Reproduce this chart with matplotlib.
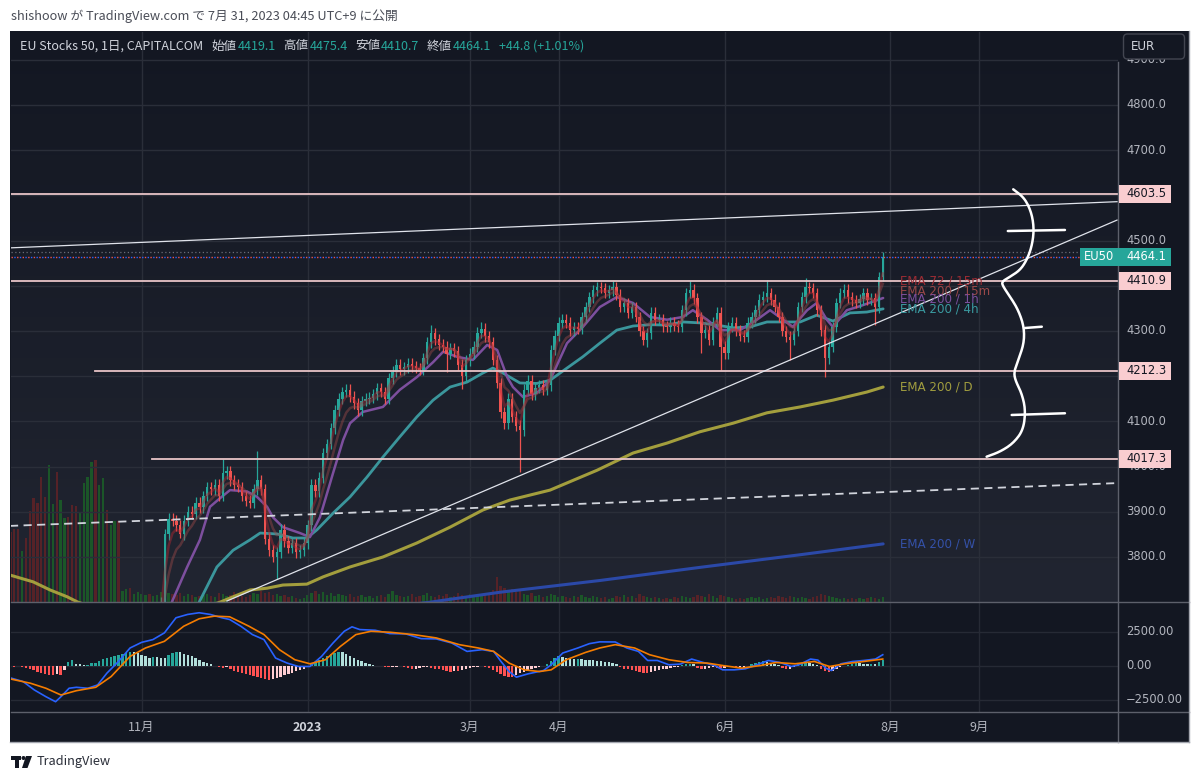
import numpy as np
import pandas as pd
import matplotlib
matplotlib.use("Agg")
import matplotlib.pyplot as plt
from matplotlib.patches import Rectangle, FancyBboxPatch, Circle, Polygon

plt.rcParams['font.family'] = ['DejaVu Sans']
CJK = ['Noto Sans CJK JP', 'DejaVu Sans']

# ---------------- data ----------------
first_open = 3560.0
closes = [
    3540, 3520, 3490, 3510, 3470, 3440, 3400, 3370, 3340, 3300,
    3330, 3360, 3320, 3350, 3380, 3360, 3340, 3310, 3340, 3380,
    3420, 3460, 3440, 3470, 3500, 3480, 3510, 3540, 3520, 3550,
    3580, 3570, 3600, 3620, 3630, 3640, 3610, 3660, 3680, 3700,
    3850, 3885, 3880, 3870, 3850, 3880, 3900, 3895, 3920, 3910,
    3935, 3955, 3950, 3960, 3935, 3985, 3990, 3970, 3960, 3955,
    3935, 3925, 3920, 3950, 3970, 3950, 3840, 3815, 3800, 3810,
    3860, 3835, 3820, 3830, 3810, 3815, 3830, 3870, 3960, 3945,
    3975, 4030, 4050, 4085, 4125, 4150, 4165, 4170, 4155, 4140,
    4125, 4145, 4150, 4152, 4160, 4174, 4165, 4150, 4195, 4210,
    4225, 4215, 4220, 4228, 4222, 4218, 4214, 4240, 4275, 4295,
    4282, 4270, 4265, 4250, 4262, 4255, 4225, 4200, 4235, 4250,
    4265, 4296, 4305, 4288, 4275, 4236, 4185, 4120, 4096, 4150,
    4110, 4090, 4080, 4170, 4190, 4160, 4175, 4180, 4170, 4180,
    4258, 4290, 4318, 4325, 4318, 4302, 4309, 4305, 4331, 4353,
    4375, 4390, 4397, 4395, 4385, 4390, 4397, 4380, 4353, 4362,
    4340, 4353, 4331, 4300, 4280, 4295, 4340, 4325, 4325, 4310,
    4309, 4318, 4312, 4309, 4346, 4384, 4391, 4372, 4330, 4296,
    4302, 4280, 4320, 4340, 4265, 4251, 4309, 4318, 4302, 4290,
    4287, 4318, 4330, 4346, 4369, 4376, 4384, 4369, 4353, 4331,
    4300, 4287, 4280, 4300, 4353, 4375, 4397, 4395, 4384, 4346,
    4302, 4240, 4265, 4309, 4362, 4384, 4391, 4375, 4368, 4362,
    4370, 4384, 4369, 4372, 4352, 4419.1, 4464.1,
]
special_high = {55: 4017, 64: 4034, 109: 4313, 122: 4321, 156: 4410,
                176: 4410, 196: 4412, 206: 4418, 226: 4475.4}
special_low = {44: 3842, 69: 3752, 113: 4209, 117: 4172, 132: 3988, 165: 4265,
               179: 4251, 184: 4214, 202: 4236, 211: 4198, 224: 4313, 226: 4410.7}
volumes = [
    70, 73, 73, 51, 64, 91, 104, 99, 125, 105,
    137, 98, 130, 102, 84, 85, 97, 96, 89, 119,
    125, 140, 142, 117, 124, 92, 77, 81, 81, 11,
    13, 14, 8, 10, 8, 7, 8, 6, 7, 10,
    18, 9, 8, 7, 9, 6, 8, 7, 5, 6,
    7, 8, 6, 5, 9, 8, 6, 7, 10, 8,
    6, 5, 7, 9, 8, 11, 9, 10, 7, 8,
    6, 7, 5, 6, 4, 3, 4, 7, 9, 11,
    8, 10, 7, 9, 6, 8, 7, 6, 8, 5,
    6, 7, 5, 6, 4, 6, 7, 5, 8, 11,
    7, 6, 5, 6, 8, 5, 6, 7, 9, 6,
    5, 7, 6, 8, 5, 6, 9, 7, 6, 8,
    5, 7, 6, 8, 9, 12, 25, 16, 14, 11,
    13, 10, 12, 8, 7, 9, 6, 7, 5, 6,
    8, 7, 5, 6, 5, 4, 6, 5, 7, 5,
    4, 6, 5, 4, 5, 3, 4, 6, 5, 7,
    5, 6, 4, 8, 6, 5, 4, 5, 4, 3,
    4, 3, 5, 4, 6, 5, 4, 5, 7, 6,
    5, 8, 6, 4, 7, 6, 5, 4, 3, 4,
    3, 4, 5, 4, 5, 3, 4, 5, 4, 6,
    5, 4, 6, 5, 4, 5, 4, 3, 5, 6,
    8, 7, 6, 5, 4, 3, 4, 3, 4, 3,
    4, 3, 4, 5, 4, 3, 5,
]
macd_hist = [
    -50, -60, -40, -80, -150, -250, -330, -420, -520, -600,
    -640, -660, -620, -650, -300, 300, 400, 150, 100, 50,
    80, 180, 200, 350, 500, 600, 620, 720, 800, 880,
    950, 1050, 1000, 950, 820, 700, 600, 640, 620, 580,
    560, 800, 950, 1050, 1000, 900, 800, 700, 550, 420,
    300, 200, 100, -40, -80, -150, -120, -250, -350, -450,
    -520, -600, -680, -750, -800, -900, -980, -1040, -1000, -900,
    -820, -700, -600, -500, -400, -300, -200, -100, 100, 250,
    400, 550, 700, 850, 950, 1050, 1000, 900, 750, 600,
    450, 320, 200, 120, 60, 20, -30, -60, -90, -80,
    -60, -50, -120, -180, -240, -200, -150, -100, -90, -130,
    -200, -260, -320, -380, -420, -350, -400, -300, -250, -180,
    -120, -60, -40, -80, -150, -300, -450, -600, -720, -800,
    -840, -700, -560, -450, -350, -250, -150, -80, -30, 120,
    350, 600, 700, 620, 560, 520, 480, 500, 480, 450,
    420, 400, 380, 350, 300, 250, 180, 100, -100, -200,
    -250, -300, -350, -420, -500, -520, -420, -350, -300, -250,
    -200, -150, -100, -60, 60, 120, 150, 100, -150, -250,
    -200, -180, -120, -150, -180, -140, -120, -100, -120, -90,
    -60, -30, 100, 200, 300, 350, 300, 200, 120, 50,
    -150, -250, -200, -120, 120, 200, 250, 200, 100, 30,
    -200, -350, -420, -350, -250, -120, -40, 80, 150, 200,
    180, 150, 120, 150, 130, 250, 400,
]
# moving-average lines: (bar position, value)
ema1h_x = [41.3, 45.8, 49.1, 51.7, 54.3, 56.9, 61.3, 63.9, 66.5, 68.0, 70.6, 75.0, 77.6, 80.2,
           83.6, 86.2, 88.0, 91.3, 96.5, 100.9, 105.3, 109.5, 112.1, 115.7, 119.8, 123.5,
           126.1, 128.7, 130.2, 132.8, 136.4, 139.8, 144.2, 148.3, 152.7, 157.1, 161.3,
           165.7, 170.1, 174.2, 176.8, 180.5, 183.8, 189.0, 193.4, 196.8, 200.2, 202.7,
           206.4, 208.9, 211.5, 213.1, 216.7, 220.1, 226.1]
ema1h_y = [3690, 3778, 3838, 3911, 3930, 3948, 3945, 3933, 3911, 3888, 3866, 3853, 3844, 3888,
           3986, 4059, 4096, 4121, 4132, 4170, 4198, 4231, 4254, 4243, 4236, 4269,
           4258, 4198, 4176, 4154, 4163, 4191, 4273, 4309, 4353, 4375, 4362,
           4331, 4325, 4331, 4346, 4325, 4302, 4302, 4325, 4346, 4325, 4309,
           4346, 4362, 4325, 4309, 4346, 4355, 4373]
ema4h_x = [48.6, 53.5, 57.7, 62.1, 64.7, 69.1, 73.2, 76.8, 79.4, 83.6, 88.0, 92.4, 96.5, 100.9,
           105.3, 109.5, 113.9, 118.3, 122.4, 125.0, 127.6, 132.0, 136.4, 139.8, 144.2, 148.3,
           152.7, 157.1, 161.3, 165.7, 170.1, 174.2, 178.6, 183.1, 187.2, 191.6, 196.0, 200.2,
           204.6, 208.9, 213.1, 217.5, 221.9, 226.1]
ema4h_y = [3695, 3778, 3815, 3838, 3853, 3851, 3842, 3842, 3860, 3897, 3933, 3977, 4021, 4066,
           4110, 4147, 4176, 4187, 4207, 4218, 4207, 4185, 4184, 4191, 4218, 4243,
           4273, 4302, 4311, 4314, 4313, 4320, 4318, 4313, 4307, 4309, 4320, 4320,
           4320, 4335, 4322, 4340, 4342, 4349]
emaD_x = [-0.1, 5.9, 10.3, 14.7, 17.5, 36.2, 54.3, 57.7, 62.1, 66.5, 70.6, 76.8, 81.0, 88.0,
          96.5, 105.3, 113.9, 122.4, 129.4, 139.8, 152.0, 161.3, 170.1, 178.6, 187.2, 196.0,
          204.6, 213.1, 221.9, 226.1]
emaD_y = [3760, 3745, 3727, 3712, 3700, 3650, 3700, 3712, 3727, 3731, 3738, 3740, 3756, 3778,
          3800, 3831, 3866, 3904, 3926, 3948, 3992, 4030, 4052, 4077, 4096, 4119,
          4132, 4147, 4165, 4176]
emaW_x = [88.0, 108.7, 126.8, 152.7, 178.6, 204.6, 226.1]
emaW_y = [3680, 3700, 3722, 3748, 3777, 3805, 3829]
macd_x = [0.3, 3.3, 6.2, 9.2, 11.7, 13.1, 15.2, 17.1, 20.1, 22.6,
          25.0, 28.0, 31.0, 34.0, 36.9, 39.9, 42.9, 45.9, 48.9, 51.8,
          54.8, 56.8, 59.7, 62.7, 65.7, 68.7, 71.7, 74.6, 77.6, 80.6,
          83.6, 86.5, 88.5, 90.5, 94.5, 98.3, 102.4, 106.4, 110.3, 114.3,
          118.3, 122.2, 125.2, 127.1, 129.2, 131.1, 134.1, 138.1, 140.1, 143.1,
          147.0, 150.0, 152.7, 156.7, 159.7, 162.7, 165.1, 167.6, 170.6, 173.6,
          176.5, 179.5, 182.5, 184.5, 187.5, 190.4, 193.4, 196.4, 199.4, 202.3,
          204.3, 207.3, 209.2, 211.2, 212.7, 215.2, 218.2, 221.1, 224.1, 226.0]
macd_y = [-912, -1160, -1776, -2270, -2640, -2270, -1650, -1580, -1650, -1406,
          -540, 318, 1310, 1724, 1924, 2420, 3530, 3774, 3900, 3774,
          3530, 3404, 2908, 2294, 1924, 570, 200, -50, -50, 690,
          1680, 2540, 2864, 2664, 2612, 2368, 2346, 1998, 1976, 1680,
          1058, 1184, 1058, 318, -422, -836, -592, -348, 74, 940,
          1310, 1628, 1760, 1750, 1310, 1058, 392, 392, 74, 126,
          496, 244, 22, -296, -296, -222, 74, 392, 244, -52,
          74, 496, 420, -170, -348, 148, 318, 392, 496, 814]
signal_x = [0.3, 5.2, 9.2, 13.1, 17.1, 22.1, 26.1, 31.0, 35.0, 39.9,
            44.9, 48.9, 52.8, 56.8, 61.8, 65.7, 69.7, 73.7, 77.6, 81.6,
            85.5, 89.5, 93.4, 98.4, 104.4, 110.3, 116.3, 121.2, 125.2, 129.2,
            133.1, 137.1, 140.1, 144.0, 149.0, 152.7, 156.7, 161.7, 165.6, 170.6,
            175.5, 180.5, 184.5, 189.4, 194.4, 198.3, 203.3, 208.3, 212.2, 216.2,
            221.1, 226.0]
signal_y = [-986, -1282, -1650, -2146, -1830, -1580, -790, 690, 1310, 1800,
            2908, 3456, 3650, 3600, 2908, 2294, 1184, 444, 148, 444,
            1428, 2294, 2538, 2464, 2294, 2050, 1554, 1310, 1058, 200,
            -296, -422, -296, 444, 984, 1310, 1554, 1310, 814, 444,
            244, 200, 22, -170, 22, 244, 148, 318, -52, 148,
            318, 496]
level_prices = [4603.5, 4410.9, 4212.3, 4017.3]
level_starts = [-1.0, -1.0, 21.9, 36.7]
last_price = 4464.1
last_high = 4475.4
upper_line = [(-0.1, 4483.9), (286.7, 4586.1)]
rising_line = [(56.1, 3702.6), (286.7, 4545.4)]
dashed_line = [(-0.1, 3868.8), (286.7, 3963.5)]
brace_pts = [(259.8, 4613.5), (262.8, 4593.6), (264.6, 4560.4), (265.2, 4523.5), (264.6, 4486.5),
             (263.3, 4457.1), (261.6, 4434.9), (259.0, 4420.1), (256.8, 4409.1), (257.2, 4398.0),
             (259.0, 4375.9), (261.1, 4346.5), (262.6, 4309.5), (262.6, 4272.8), (261.1, 4235.8),
             (260.0, 4210.0), (260.3, 4191.6), (262.0, 4162.2), (263.0, 4125.2), (262.4, 4080.9),
             (259.8, 4051.5), (256.4, 4032.9), (252.9, 4021.9)]
brace_ticks = [[(258.4, 4521.2), (273.2, 4523.5)],
               [(262.8, 4306.6), (267.2, 4309.5)],
               [(259.4, 4114.2), (273.2, 4118.0)]]
price_ticks = [3800, 3900, 4000, 4100, 4200, 4300, 4400, 4500, 4600, 4700, 4800, 4900]
macd_ticks = [2500, 0, -2500]
month_labels = [("2022-11-01", "11月"), ("2023-01-02", "2023"), ("2023-03-01", "3月"),
                ("2023-04-03", "4月"), ("2023-06-01", "6月"), ("2023-08-01", "8月"),
                ("2023-09-01", "9月")]
ema_labels = [("EMA 72 / 15m", 4410.6, '#9b2c34'), ("EMA 200 / 15m", 4388.5, '#9a4848'),
              ("EMA 200 / 1h", 4370.8, '#7b4f9d'), ("EMA 200 / 4h", 4348.7, '#3a9aa0'),
              ("EMA 200 / D", 4176.0, '#a19d3f'), ("EMA 200 / W", 3828.8, '#3451a8')]
header = [("EU Stocks 50, 1日, CAPITALCOM", None), ("始値", "4419.1"), ("高値", "4475.4"),
          ("安値", "4410.7"), ("終値", "4464.1"), (None, "+44.8 (+1.01%)")]

# ---------------- calendar ----------------
days = pd.bdate_range("2022-09-14", "2023-09-29")
days = days[days != pd.Timestamp("2022-12-26")]
day_pos = {d: i for i, d in enumerate(days)}
n = len(closes)
x = np.arange(n)
tick_pos = [day_pos[pd.Timestamp(d)] for d, _ in month_labels]

# ---------------- geometry (pixels) ----------------
W, H = 1200, 780
PX0, PXB = 10.4, 3.86
P_REF, PY_REF, PY_PER = 4800.0, 105.0, 0.452
M0, MK = 665.8, 73.5
MAIN = (11, 32, 1118, 602)
MACDP = (11, 602.5, 1118, 712)


def fpos(l, t, r, b):
    return [l / W, 1 - b / H, (r - l) / W, (b - t) / H]


def idx_at(px):
    return (px - PX0) / PXB


def price_at(py):
    return P_REF - (py - PY_REF) / PY_PER


def macd_at(py):
    return (M0 - py) * MK


def py_price(p):
    return PY_REF + (P_REF - p) * PY_PER


def py_macd(v):
    return M0 - v / MK


def px_idx(i):
    return PX0 + PXB * i


XLIM = (idx_at(MAIN[0]), idx_at(MAIN[2]))

fig = plt.figure(figsize=(12, 7.8), dpi=100, facecolor='white')
renderer = fig.canvas.get_renderer()

# background
bg = fig.add_axes([0, 0, 1, 1], zorder=-5)
bg.axis('off')
bg.add_patch(Rectangle((10, 31), 1179, 711, facecolor='#131722', edgecolor='none', zorder=0))
top = np.array([19, 23, 34]) / 255
bot = np.array([33, 37, 49]) / 255
g = np.linspace(0, 1, 256)[:, None]
img = (top + (bot - top) * g)[:, None, :]
bg.imshow(img, extent=(MAIN[0], MAIN[2], MAIN[3], MAIN[1]), aspect='auto',
          interpolation='bilinear', zorder=1)
bg.set_xlim(0, W)
bg.set_ylim(H, 0)

# candles
c = np.array(closes, dtype=float)
o = np.r_[first_open, c[:-1]]
up = c >= o
body_lo = np.minimum(o, c)
body_hi = np.maximum(o, c)
hi = body_hi + 12
lo = body_lo - 12
for k, v in special_high.items():
    hi[k] = v
for k, v in special_low.items():
    lo[k] = v
ccol = np.where(up, '#26a69a', '#ef5350')
vcol = np.where(up, '#1b5628', '#562227')

# volume
vax = fig.add_axes(fpos(*MAIN), zorder=0)
vax.set_facecolor('none')
vax.axis('off')
vax.bar(x, volumes, width=0.62, color=vcol, linewidth=0)
vax.set_xlim(*XLIM)
vax.set_ylim(0, MAIN[3] - MAIN[1])

# main pane
ax = fig.add_axes(fpos(*MAIN), zorder=1)
ax.set_facecolor('none')
for s in ax.spines.values():
    s.set_visible(False)
ax.set_xticks([])
ax.set_yticks([])
for p in price_ticks:
    ax.axhline(p, color='#2a2e39', lw=1, zorder=0)
for t in tick_pos:
    ax.axvline(t, color='#2a2e39', lw=1, zorder=0)

ax.plot(emaW_x, emaW_y, color='#2b49a8', lw=2.2, zorder=2, solid_capstyle='round')
ax.plot(emaD_x, emaD_y, color='#a39e3d', lw=2.2, zorder=2, solid_capstyle='round')
ax.plot(ema4h_x, ema4h_y, color='#3b969c', lw=2.0, zorder=3, solid_capstyle='round')
ax.plot(ema1h_x, ema1h_y, color='#7d4f9e', lw=1.8, zorder=3, solid_capstyle='round')

ax.vlines(x, lo, hi, colors=ccol, lw=0.9, zorder=4)
ax.bar(x, np.maximum(body_hi - body_lo, 2.0), bottom=body_lo, width=0.62,
       color=ccol, linewidth=0, zorder=5)

s = pd.Series(c)
ema15a = s.ewm(span=3, adjust=False).mean()
ema15b = s.ewm(span=6, adjust=False).mean()
ax.plot(x[38:], ema15b[38:], color='#9a4848', lw=1.8, alpha=0.45, zorder=6)
ax.plot(x[38:], ema15a[38:], color='#b22833', lw=1.8, alpha=0.45, zorder=6)

for p, st in zip(level_prices, level_starts):
    ax.plot([st, XLIM[1] + 1], [p, p], color='#e8c4c7', lw=1.3, zorder=6)
ax.axhline(last_high, color='#6a6d78', lw=0.9, ls=(0, (1, 2)), zorder=6)
ax.axhline(last_price, color='#ef5350', lw=1.0, ls=(0, (1, 3)), zorder=6)
ax.axhline(last_price, color='#2962ff', lw=1.0, ls=(2, (1, 3)), zorder=6)

for line in (upper_line, rising_line):
    (x1, y1), (x2, y2) = line
    ax.plot([x1, x2], [y1, y2], color='#e0e3eb', lw=0.9, zorder=7)
(x1, y1), (x2, y2) = dashed_line
ax.plot([x1, x2], [y1, y2], color='#d1d4dc', lw=1.3, ls=(0, (4.5, 3)), zorder=7)


def chaikin(pts, it=3):
    pts = np.asarray(pts, dtype=float)
    for _ in range(it):
        new = [pts[0]]
        for a, b in zip(pts[:-1], pts[1:]):
            new.append(0.75 * a + 0.25 * b)
            new.append(0.25 * a + 0.75 * b)
        new.append(pts[-1])
        pts = np.array(new)
    return pts


bp = chaikin(brace_pts)
ax.plot(bp[:, 0], bp[:, 1], color='white', lw=1.8, zorder=8, solid_capstyle='round')
for tk in brace_ticks:
    (x1, y1), (x2, y2) = tk
    ax.plot([x1, x2], [y1, y2], color='white', lw=1.8, zorder=8, solid_capstyle='round')

for txt, p, col in ema_labels:
    ax.text(idx_at(900), p, txt, color=col, fontsize=8.6, va='center', ha='left', zorder=9)

ax.set_xlim(*XLIM)
ax.set_ylim(price_at(MAIN[3]), price_at(MAIN[1]))

# MACD pane
mx = fig.add_axes(fpos(*MACDP), zorder=1)
mx.set_facecolor('none')
for sp in mx.spines.values():
    sp.set_visible(False)
mx.set_xticks([])
mx.set_yticks([])
for v in macd_ticks:
    mx.axhline(v, color='#262a35', lw=1, zorder=0)
for t in tick_pos:
    mx.axvline(t, color='#262a35', lw=1, zorder=0)
hist = np.array(macd_hist, dtype=float)
prev = np.r_[hist[0], hist[:-1]]
hcol = np.where(hist >= 0, np.where(hist >= prev, '#26a69a', '#b2dfdb'),
                np.where(hist <= prev, '#ff5252', '#ffcdd2'))
mx.bar(x, hist, width=0.62, color=hcol, linewidth=0, zorder=2)
mx.plot(macd_x, macd_y, color='#2962ff', lw=1.2, zorder=3)
mx.plot(signal_x, signal_y, color='#f57c00', lw=1.2, zorder=3)
mx.set_xlim(*XLIM)
mx.set_ylim(macd_at(MACDP[3]), macd_at(MACDP[1]))

# overlay (pixel coordinates)
ov = fig.add_axes([0, 0, 1, 1], zorder=10)
ov.set_facecolor('none')
ov.axis('off')
ov.set_xlim(0, W)
ov.set_ylim(H, 0)

# separators / borders
ov.plot([11, 1189], [602, 602], color='#5d606b', lw=1)
ov.plot([11, 1189], [712, 712], color='#5d606b', lw=1)
ov.plot([1118, 1118], [62, 742], color='#5d606b', lw=1)
ov.plot([1188.5, 1188.5], [31, 742], color='#a3a6af', lw=1)
ov.plot([10, 1189], [742, 742], color='#a3a6af', lw=1)

# price scale labels (labels covered by the level boxes are only partly visible)
box_h = 18
covers = [(py_price(p) - box_h / 2, py_price(p) + box_h / 2) for p in level_prices]
covers.append((33, 59.5))  # EUR button
for p in price_ticks:
    y = py_price(p)
    clip_top = None
    for a, b in covers:
        if a - 4 < y < b + 4:
            clip_top = b
    if clip_top is not None and y + 5.5 < clip_top + 1.5:
        continue  # fully hidden behind a box in the reference
    t = ov.text(1126, y, f"{p:.1f}", color='#b2b5be', fontsize=8.3, va='center', ha='left', zorder=1)
    if clip_top is not None:
        t.set_clip_path(Rectangle((1118, clip_top), 70, 30, transform=ov.transData))
for p in level_prices:
    y = py_price(p)
    ov.add_patch(Rectangle((1118.5, y - box_h / 2), 52, box_h, facecolor='#f9cdd0',
                           edgecolor='none', zorder=3))
    ov.text(1126, y, f"{p:.1f}", color='#131722', fontsize=8.3, va='center', ha='left', zorder=4)
y = py_price(last_price)
ov.add_patch(Rectangle((1080, y - 9), 90.5, 18, facecolor='#26a69a', edgecolor='none', zorder=3))
ov.text(1084, y, "EU50", color='white', fontsize=8.3, va='center', ha='left', zorder=4)
ov.text(1126, y, f"{last_price:.1f}", color='white', fontsize=8.3, va='center', ha='left', zorder=4)

for v in macd_ticks:
    lab = f"{v:.2f}".replace('-', '\u2212')
    ov.text(1126, py_macd(v), lab, color='#b2b5be', fontsize=8.3, va='center', ha='left')

# time axis labels
for (d, lab), t in zip(month_labels, tick_pos):
    bold = lab == "2023"
    ov.text(px_idx(t), 727.5, lab, color='#d1d4dc' if bold else '#b2b5be', fontsize=9,
            fontweight='bold' if bold else 'normal', family=CJK, ha='center', va='center')

# EUR button
ov.add_patch(FancyBboxPatch((1123.5, 34), 61, 25, boxstyle='round,pad=0,rounding_size=4',
                            facecolor='#131722', edgecolor='#434651', lw=1, zorder=5))
ov.text(1131, 46.5, "EUR", color='#d1d4dc', fontsize=8.6, va='center', ha='left', zorder=6)


# header, pieces chained from left to right
def put(xp, txt, col):
    t = ov.text(xp, 46, txt, color=col, fontsize=9.0, family=CJK, va='center', ha='left', zorder=6)
    bb = t.get_window_extent(renderer=renderer)
    return xp + bb.width


xp = 20
for i, (lab, val) in enumerate(header):
    if i > 0:
        xp += 7.5
    if lab is not None:
        xp = put(xp, lab, '#d1d4dc')
        xp += 1
    if val is not None:
        xp = put(xp, val, '#26a69a')

# top credit line
ov.text(11, 16, "shishoow が TradingView.com で 7月 31, 2023 04:45 UTC+9 に公開",
        color='#4a4d57', fontsize=9.2, family=CJK, va='center', ha='left')

# bottom logo
ov.add_patch(Rectangle((11, 756), 10, 4, facecolor='#131722', edgecolor='none'))
ov.add_patch(Rectangle((15, 756), 4, 12, facecolor='#131722', edgecolor='none'))
ov.add_patch(Circle((23.5, 758), 2.0, facecolor='#131722', edgecolor='none'))
ov.add_patch(Polygon([(26, 756), (32, 756), (27.5, 768), (22, 768)], closed=True,
                     facecolor='#131722', edgecolor='none'))
ov.text(37, 762, "TradingView", color='#2a2e39', fontsize=9.2, family=CJK, va='center', ha='left')

fig.savefig("out.png", dpi=100, facecolor='white')
